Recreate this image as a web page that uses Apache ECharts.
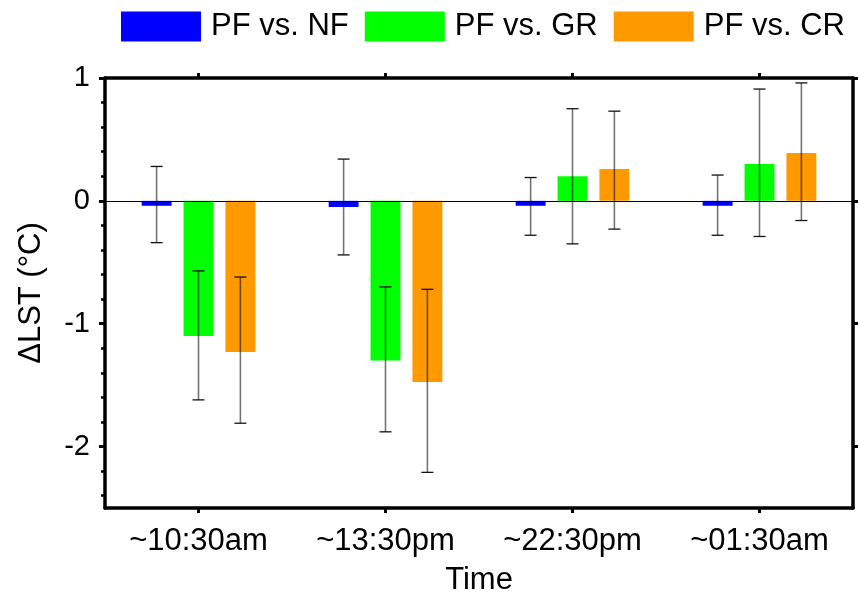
<!DOCTYPE html>
<html>
<head>
<meta charset="utf-8">
<script src="https://cdn.jsdelivr.net/npm/echarts@6/dist/echarts.min.js"></script>
<style>html,body{margin:0;padding:0;background:#fff}#c{width:859px;height:602px}</style>
</head>
<body>
<div id="c"></div>
<script>
// ---- data ----
var categories = ['~10:30am', '~13:30pm', '~22:30pm', '~01:30am'];
var seriesNames = ['PF vs. NF', 'PF vs. GR', 'PF vs. CR'];
var nfValues = [-0.04, -0.05, -0.04, -0.04];
var grValues = [-1.10, -1.30, 0.20, 0.30];
var crValues = [-1.23, -1.475, 0.26, 0.39];
var nfErrLow = [-0.34, -0.44, -0.28, -0.28];
var nfErrHigh = [0.28, 0.34, 0.19, 0.21];
var grErrLow = [-1.62, -1.88, -0.35, -0.29];
var grErrHigh = [-0.57, -0.70, 0.75, 0.91];
var crErrLow = [-1.81, -2.21, -0.23, -0.16];
var crErrHigh = [-0.62, -0.72, 0.73, 0.96];
var yMajorTicks = [-2, -1, 0, 1];
var yMinorTicks = [-2.4, -2.2, -1.8, -1.6, -1.4, -1.2, -0.8, -0.6, -0.4, -0.2, 0.2, 0.4, 0.6, 0.8];
var yMin = -2.5, yMax = 1;
// ---- style ----
var colors = ['#0000FF', '#00FF00', '#FF9900'];
var FONT = 'Liberation Sans, Arial, sans-serif';
var BAR_W = 0.16, BAR_GAP = 0.40;

var values = [nfValues, grValues, crValues];
var errLow = [nfErrLow, grErrLow, crErrLow];
var errHigh = [nfErrHigh, grErrHigh, crErrHigh];

var chart = echarts.init(document.getElementById('c'), null, {renderer: 'canvas'});

function errorSeries(k) {
  var data = categories.map(function (c, i) { return [i, errLow[k][i], errHigh[k][i]]; });
  return {
    type: 'custom',
    name: seriesNames[k] + ' err',
    xAxisIndex: 0, yAxisIndex: 0,
    z: 10,
    silent: true,
    renderItem: function (params, api) {
      var band = api.size([1, 0])[0];
      var off = (k - 1) * band * BAR_W * (1 + BAR_GAP);
      var lo = api.coord([api.value(0), api.value(1)]);
      var hi = api.coord([api.value(0), api.value(2)]);
      var x = lo[0] + off;
      var cw = 6;
      return {
        type: 'group',
        children: [
          {type: 'line', shape: {x1: x, y1: hi[1], x2: x, y2: lo[1]}, style: {stroke: 'rgba(0,0,0,0.55)', lineWidth: 1.6}},
          {type: 'line', shape: {x1: x - cw, y1: hi[1], x2: x + cw, y2: hi[1]}, style: {stroke: '#111', lineWidth: 1.3}},
          {type: 'line', shape: {x1: x - cw, y1: lo[1], x2: x + cw, y2: lo[1]}, style: {stroke: '#111', lineWidth: 1.3}}
        ]
      };
    },
    encode: {x: 0, y: [1, 2]},
    data: data
  };
}

var barSeries = seriesNames.map(function (n, k) {
  var s = {
    type: 'bar', name: n,
    xAxisIndex: 0, yAxisIndex: 0,
    barWidth: (BAR_W * 100) + '%',
    barGap: (BAR_GAP * 100) + '%',
    itemStyle: {color: colors[k]},
    data: values[k],
    z: 2
  };
  if (k === 0) {
    s.markLine = {
      silent: true, symbol: 'none', label: {show: false},
      lineStyle: {color: '#000', width: 1.2, type: 'solid'},
      data: [{yAxis: 0}],
      z: 5
    };
  }
  return s;
});

var axisLineStyle = {color: '#000', width: 3.5};

var option = {
  animation: false,
  backgroundColor: '#fff',
  textStyle: {fontFamily: FONT},
  legend: {
    data: seriesNames,
    left: 116, top: 6,
    itemWidth: 80, itemHeight: 30,
    itemGap: 16,
    icon: 'rect',
    textStyle: {fontFamily: FONT, fontSize: 31, color: '#000', padding: [0, 0, 0, 5]}
  },
  grid: {left: 105, right: 6, top: 78, bottom: 94, containLabel: false},
  xAxis: [
    {
      type: 'category', data: categories, position: 'bottom',
      axisLine: {show: true, onZero: false, lineStyle: axisLineStyle},
      axisTick: {show: true, alignWithLabel: true, length: 5, lineStyle: {color: '#000', width: 3}},
      axisLabel: {color: '#000', fontFamily: FONT, fontSize: 31, margin: 18},
      name: 'Time', nameLocation: 'middle', nameGap: 57,
      nameTextStyle: {color: '#000', fontFamily: FONT, fontSize: 31, verticalAlign: 'top'}
    },
    {
      type: 'category', data: categories, position: 'top',
      axisLine: {show: true, onZero: false, lineStyle: axisLineStyle},
      axisTick: {show: true, alignWithLabel: true, length: 5, lineStyle: {color: '#000', width: 3}},
      axisLabel: {show: false}
    }
  ],
  yAxis: [
    {
      type: 'value', min: yMin, max: yMax, position: 'left',
      splitLine: {show: false},
      axisLine: {show: true, onZero: false, lineStyle: axisLineStyle},
      axisTick: {show: true, customValues: yMajorTicks, length: 6, lineStyle: {color: '#000', width: 3}},
      axisLabel: {customValues: yMajorTicks, color: '#000', fontFamily: FONT, fontSize: 29, margin: 15},
      name: 'ΔLST (°C)', nameLocation: 'middle', nameGap: 58, nameRotate: 90,
      nameTextStyle: {color: '#000', fontFamily: FONT, fontSize: 31}
    },
    {
      type: 'value', min: yMin, max: yMax, position: 'left',
      splitLine: {show: false},
      axisLine: {show: false},
      axisTick: {show: true, customValues: yMinorTicks, length: 4, lineStyle: {color: '#000', width: 2.5}},
      axisLabel: {show: false}
    },
    {
      type: 'value', min: yMin, max: yMax, position: 'right',
      splitLine: {show: false},
      axisLine: {show: true, onZero: false, lineStyle: axisLineStyle},
      axisTick: {show: true, customValues: yMajorTicks, length: 5, lineStyle: {color: '#000', width: 3}},
      axisLabel: {show: false}
    }
  ],
  series: barSeries.concat([errorSeries(0), errorSeries(1), errorSeries(2)])
};
chart.setOption(option);
</script>
</body>
</html>
